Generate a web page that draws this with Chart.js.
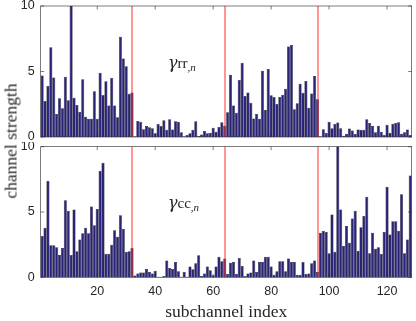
<!DOCTYPE html>
<html><head><meta charset="utf-8">
<script src="https://cdn.jsdelivr.net/npm/chart.js@4/dist/chart.umd.min.js"></script>
<style>
html,body{margin:0;padding:0;background:#fff;}
#wrap{position:relative;width:416px;height:321px;overflow:hidden;background:#fff;}
#c1{position:absolute;left:0;top:0;}
#c2{position:absolute;left:0;top:142px;}
#ylab{position:absolute;left:11px;top:141px;transform:translate(-50%,-50%) rotate(-90deg);white-space:nowrap;font-family:"Liberation Serif","DejaVu Serif",serif;font-size:17.5px;color:#262626;}
</style></head>
<body><div id="wrap">
<canvas id="c1" width="416" height="142"></canvas>
<canvas id="c2" width="416" height="179"></canvas>
<div id="ylab">channel strength</div>
</div>
<script>
// ---- data ----
const subchannels = Array.from({length:128},(_,i)=>i+1);
const gammaRR = [
 4.7,2.75,3.9,6.85,4.55,1.75,2.95,2.2,4.6,2.8,10.4,3.0,2.45,1.9,4.4,1.55,1.4,1.4,3.5,1.4,4.9,3.2,4.25,2.4,4.5,2.4,1.5,7.65,6.0,5.4,3.3,3.4,
 0.05,1.22,1.17,0.6,0.84,0.74,0.66,0.28,0.99,0.84,1.27,0.56,1.35,0.58,1.2,1.17,0.36,0.05,0.15,0.28,0.56,1.2,0.08,0.2,0.46,0.28,0.3,0.7,0.4,0.76,1.12,0.85,
 1.88,4.76,2.4,1.86,4.35,5.67,3.13,3.4,2.62,1.42,1.76,1.4,5.06,2.06,5.19,3.18,3.05,2.52,3.05,3.23,3.69,6.9,7.02,2.11,2.57,4.07,3.38,4.27,2.24,3.33,4.66,2.88,
 0.05,0.6,0.3,1.17,0.66,1.0,1.1,0.66,0.1,0.23,0.64,0.5,0.23,0.58,0.56,0.56,1.35,1.07,0.84,0.36,0.86,0.4,0.15,0.94,0.33,1.02,1.07,1.12,0.25,0.36,0.58,0.15
];
const gammaCC = [
 3.16,3.8,7.4,2.45,2.45,2.3,1.7,2.25,5.9,5.1,1.7,5.2,2.0,2.9,3.37,3.8,3.37,5.43,3.98,5.23,8.16,8.78,1.8,1.8,2.5,3.6,3.1,4.75,3.7,1.94,2.0,2.25,
 0.13,0.3,0.36,0.36,0.64,0.4,0.3,0.5,0.05,0.05,0.1,1.28,0.71,0.64,1.17,0.46,0.05,0.4,0.05,0.82,0.61,1.07,1.68,0.1,0.3,0.82,0.54,0.15,0.82,1.58,1.22,1.43,
 0.25,1.12,1.17,0.25,1.48,0.87,0.1,0.3,0.36,1.28,0.41,1.17,1.17,1.58,1.58,0.82,0.2,0.46,1.22,1.22,0.46,1.43,1.17,1.17,0.2,0.2,1.17,0.25,0.3,1.07,1.28,0.41,
 3.42,3.57,3.47,1.84,4.8,1.96,10.4,5.2,2.4,3.93,2.65,4.5,5.1,2.04,3.83,4.69,6.17,1.84,3.42,2.19,2.3,1.79,3.47,6.94,3.27,4.29,4.29,3.57,6.35,1.84,2.9,7.8
];
const xTickValues = [20,40,60,80,100,120];
const yTickValues = [0,5,10];
const separators = [32,64,96];
const panelLabels = [{main:'rr', sub:',n'},{main:'cc', sub:',n'}];
const labelAt = {x:44.4, y:5.3};

const TICKFONT = {family:'"Liberation Sans", Arial, sans-serif', size:12.5, lineHeight:1};
const AXC = '#262626';

function framePlugin(label){
  return {
    id:'frame',
    afterDatasetsDraw(chart){
      const {ctx, chartArea:a, scales:{x,y}} = chart;
      ctx.save();
      // separators
      ctx.fillStyle='#ff3030';
      for(const v of separators){
        const px=Math.round(x.getPixelForValue(v));
        ctx.fillRect(px-0.5,a.top,1,a.bottom-a.top);
      }
      // box
      ctx.strokeStyle=AXC; ctx.lineWidth=0.6;
      ctx.strokeRect(a.left,a.top,a.right-a.left,a.bottom-a.top);
      const L=3.5;
      ctx.beginPath();
      for(const v of xTickValues){
        const px=x.getPixelForValue(v);
        ctx.moveTo(px,a.bottom); ctx.lineTo(px,a.bottom-L);
        ctx.moveTo(px,a.top); ctx.lineTo(px,a.top+L);
      }
      for(const v of yTickValues){
        const py=y.getPixelForValue(v);
        ctx.moveTo(a.left,py); ctx.lineTo(a.left+L,py);
        ctx.moveTo(a.right,py); ctx.lineTo(a.right-L,py);
      }
      ctx.stroke();
      // panel label
      const lx=x.getPixelForValue(labelAt.x), ly=y.getPixelForValue(labelAt.y);
      ctx.fillStyle='#262626'; ctx.textBaseline='alphabetic'; ctx.textAlign='left';
      ctx.font='italic 16px "DejaVu Serif", "Liberation Serif", serif';
      ctx.fillText('\u03B3',lx,ly);
      let w=ctx.measureText('\u03B3').width;
      ctx.font='15px "Liberation Serif", serif';
      ctx.fillText(label.main,lx+w,ly);
      w+=ctx.measureText(label.main).width;
      ctx.font='italic 11px "Liberation Serif", serif';
      ctx.fillText(label.sub,lx+w,ly+3);
      ctx.restore();
    }
  };
}

function makeChart(id, values, label, bottom){
  const data = subchannels.map((s,i)=>({x:s,y:values[i]}));
  return new Chart(document.getElementById(id),{
    type:'bar',
    data:{datasets:[{data, backgroundColor:'#2a2476', borderColor:'#0b0b1e', borderWidth:0.5,
      barThickness:3.05, inflateAmount:0}]},
    options:{
      responsive:false, animation:false,
      layout:{padding:{top:bottom?4.7:6, right:4.3, left:0, bottom:0}},
      plugins:{legend:{display:false}, tooltip:{enabled:false}},
      scales:{
        x:{type:'linear', min:0.5, max:128.5, offset:false,
          grid:{display:false, drawTicks:false}, border:{display:false},
          afterBuildTicks:s=>{s.ticks=xTickValues.map(v=>({value:v}));},
          afterFit:s=>{s.height = bottom?43.7:5; s.paddingLeft=0; s.paddingRight=0;},
          ticks:{display:bottom, font:TICKFONT, color:AXC, padding:8, maxRotation:0, autoSkip:false},
          title:{display:bottom, text:'subchannel index', color:AXC,
            font:{family:'"Liberation Serif", "DejaVu Serif", serif', size:17.5, lineHeight:1}, padding:{top:5,bottom:0}}
        },
        y:{min:0, max:10,
          grid:{display:false, drawTicks:false}, border:{display:false},
          afterBuildTicks:s=>{s.ticks=yTickValues.map(v=>({value:v}));},
          afterFit:s=>{s.width=40.7; s.paddingTop=0; s.paddingBottom=0;},
          ticks:{font:TICKFONT, color:AXC, padding:6}
        }
      }
    },
    plugins:[framePlugin(label)]
  });
}
makeChart('c1', gammaRR, panelLabels[0], false);
makeChart('c2', gammaCC, panelLabels[1], true);
</script>
</body></html>
